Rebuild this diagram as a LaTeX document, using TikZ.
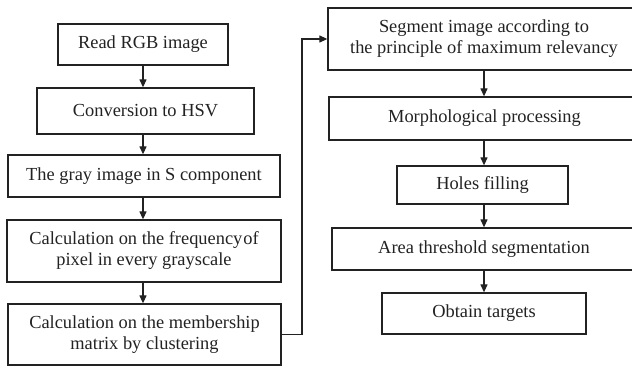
\documentclass[tikz,border=0pt]{standalone}
\usepackage{fontspec}
\setmainfont{Liberation Serif}
\usetikzlibrary{arrows.meta,calc}
\definecolor{ink}{HTML}{222222}
\tikzset{
  box/.style={draw=ink, line width=1.3pt, rectangle, inner sep=0pt, align=center, text=ink,
    font=\fontsize{18.4}{21}\selectfont},
  arr/.style={draw=ink, line width=1.2pt, -{Triangle[length=8pt,width=7pt]}}
}
\begin{document}
\begin{tikzpicture}[x=1pt,y=-1pt]
\useasboundingbox (0,0) rectangle (632,367);
\begin{scope}
\clip (0,0) rectangle (632,367);
\node[box, minimum width=170pt, minimum height=41pt] (read) at (143,44.5) {Read RGB image};
\node[box, minimum width=217pt, minimum height=46pt] (conv) at (145.5,111) {Conversion to HSV};
\node[box, minimum width=272pt, minimum height=42pt] (gray) at (144,176) {The gray image in S component};
\node[box, minimum width=274pt, minimum height=62pt] (freq) at (144,251) {Calculation on the frequency\hspace{1pt}of\\pixel in every grayscale};
\node[box, minimum width=273pt, minimum height=61pt] (memb) at (144.5,334.5) {Calculation on the membership\\matrix by clustering};
\node[box, minimum width=312pt, minimum height=62pt] (seg) at (484,39) {Segment image according to\\the principle of maximum relevancy};
\node[box, minimum width=311pt, minimum height=43pt] (morph) at (484.5,118.5) {Morphological processing};
\node[box, minimum width=171pt, minimum height=38pt] (holes) at (482.5,185) {Holes filling};
\node[box, minimum width=304pt, minimum height=42pt] (area) at (484,249) {Area threshold segmentation};
\node[box, minimum width=204pt, minimum height=41pt] (obtain) at (484,313.5) {Obtain targets};
\coordinate (bend) at (302,0);
\draw[arr] (read.south) -- (read.south |- conv.north);
\draw[arr] (conv.south -| read.south) -- (read.south |- gray.north);
\draw[arr] (gray.south -| read.south) -- (read.south |- freq.north);
\draw[arr] (freq.south -| read.south) -- (read.south |- memb.north);
\draw[arr] (memb.east) -| (bend |- seg.west) -- (seg.west);
\draw[arr] (seg.south -| obtain.north) -- (obtain.north |- morph.north);
\draw[arr] (morph.south -| obtain.north) -- (obtain.north |- holes.north);
\draw[arr] (holes.south -| obtain.north) -- (obtain.north |- area.north);
\draw[arr] (area.south -| obtain.north) -- (obtain.north);
\end{scope}
\end{tikzpicture}
\end{document}
